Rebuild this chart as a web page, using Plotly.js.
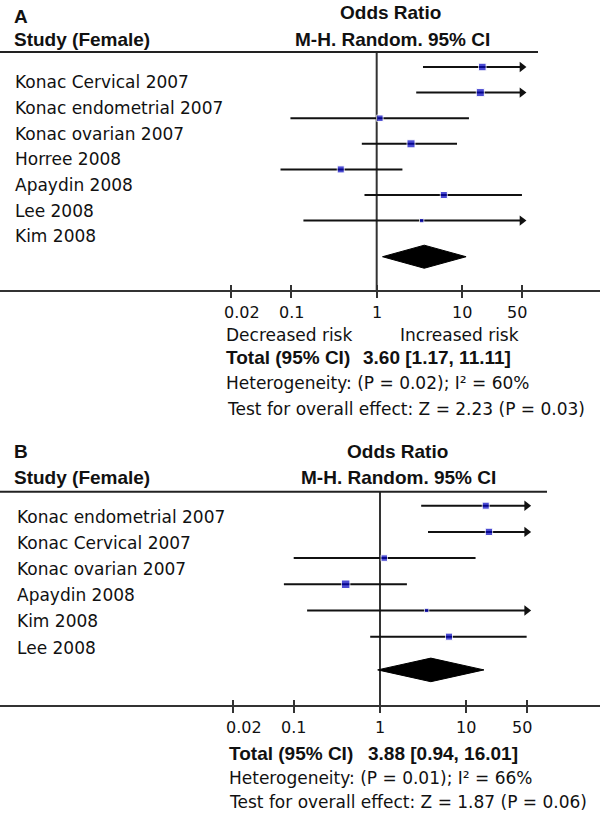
<!DOCTYPE html>
<html>
<head>
<meta charset="utf-8">
<script src="https://cdn.plot.ly/plotly-3.0.1.min.js"></script>
<style>html,body{margin:0;padding:0;background:#fff;}#chart{width:600px;height:831px;}</style>
</head>
<body>
<div id="chart"></div>
<script>
// ---------- Data ----------
const tickVals = [0.02, 0.1, 1, 10, 50];
const tickText = ["0.02", "0.1", "1", "10", "50"];

// Panel A
const studiesA = ["Konac Cervical 2007", "Konac endometrial 2007", "Konac ovarian 2007", "Horree 2008", "Apaydin 2008", "Lee 2008", "Kim 2008"];
const orA   = [17.2, 16.3, 1.09, 2.52, 0.38, 6.1, 3.36];
const lowA  = [3.48, 2.9, 0.098, 0.67, 0.075, 0.72, 0.139];
const highA = [85, 92, 12.0, 8.7, 2.0, 50, 81];
const weightA = [15, 17, 11, 17, 13, 13, 5];
const pooledA = {est: 3.60, low: 1.17, high: 11.11};
const totalTextA = "3.60 [1.17, 11.11]";
const hetTextA = "Heterogeneity: (P = 0.02); I² = 60%";
const effTextA = "Test for overall effect: Z = 2.23 (P = 0.03)";

// Panel B
const studiesB = ["Konac endometrial 2007", "Konac Cervical 2007", "Konac ovarian 2007", "Apaydin 2008", "Kim 2008", "Lee 2008"];
const orB   = [16.8, 18.3, 1.12, 0.40, 3.47, 6.3];
const lowB  = [3.0, 3.6, 0.10, 0.077, 0.143, 0.77];
const highB = [94, 93, 12.8, 2.05, 84, 50];
const weightB = [13, 14, 11, 19, 5, 13];
const pooledB = {est: 3.88, low: 0.94, high: 16.01};
const totalTextB = "3.88 [0.94, 16.01]";
const hetTextB = "Heterogeneity: (P = 0.01); I² = 66%";
const effTextB = "Test for overall effect: Z = 1.87 (P = 0.06)";

// ---------- Drawing ----------
const W = 600, H = 831;
const px = x => x / W;
const py = y => 1 - y / H;
const CLIP = 50;
const BLUE = '#0000c0';
const REG = 'DejaVu Sans, sans-serif';
const BOLD = 'Liberation Sans, Arial, sans-serif';
const tickShift = [11, 0, 0, 0, -5];

function panelTraces(or, low, high, weight, pooled, xa, ya, diamondY) {
  const lx = [], ly = [], ax = [], ay = [];
  or.forEach((v, i) => {
    const y = i + 1;
    lx.push(low[i], Math.min(high[i], CLIP), null);
    ly.push(y, y, null);
    if (high[i] > CLIP) { ax.push(CLIP); ay.push(y); }
  });
  const rows = or.map((v, i) => i + 1);
  return [
    {x: lx, y: ly, xaxis: xa, yaxis: ya, mode: 'lines', line: {color: '#111', width: 2}, hoverinfo: 'skip', showlegend: false},
    {x: ax, y: ay, xaxis: xa, yaxis: ya, mode: 'markers', marker: {symbol: 'triangle-right', size: 9, color: '#111'}, hoverinfo: 'skip', showlegend: false},
    {x: or, y: rows, xaxis: xa, yaxis: ya, mode: 'markers',
     marker: {symbol: 'square', color: BLUE, size: weight.map(w => 1.95 * Math.sqrt(w))}, showlegend: false},
    {x: [pooled.low, pooled.est, pooled.high, pooled.est, pooled.low],
     y: [diamondY, diamondY - 0.45, diamondY, diamondY + 0.45, diamondY],
     xaxis: xa, yaxis: ya, mode: 'lines', fill: 'toself', fillcolor: '#000', line: {color: '#000', width: 1}, showlegend: false}
  ];
}

const traces = [
  ...panelTraces(orA, lowA, highA, weightA, pooledA, 'x', 'y', 8.41),
  ...panelTraces(orB, lowB, highB, weightB, pooledB, 'x2', 'y2', 7.27),
  {x: [1], y: [1], xaxis: 'x3', yaxis: 'y', mode: 'markers', marker: {opacity: 0}, hoverinfo: 'skip', showlegend: false},
  {x: [1], y: [1], xaxis: 'x4', yaxis: 'y2', mode: 'markers', marker: {opacity: 0}, hoverinfo: 'skip', showlegend: false}
];

function xax(range, anchor, extra) {
  return Object.assign({
    type: 'log', range: range, domain: [0, 1], anchor: anchor,
    showline: true, linecolor: '#333', linewidth: 2,
    ticks: 'outside', ticklen: 6, tickwidth: 2, tickcolor: '#333',
    tickmode: 'array', tickvals: tickVals, ticktext: tickText, showticklabels: false,
    showgrid: false, zeroline: false, fixedrange: true
  }, extra || {});
}
function yax(domain, range) {
  return {domain: domain, range: range, showticklabels: false, showgrid: false, zeroline: false,
          showline: false, ticks: '', fixedrange: true};
}

const rangeA = [-4.406, 2.612], rangeB = [-4.403, 2.549];

const ann = [];
function txt(text, x, y, opts) {
  ann.push(Object.assign({text: text, x: px(x), y: py(y), xref: 'paper', yref: 'paper',
    showarrow: false, xanchor: 'left', yanchor: 'middle',
    font: {family: REG, size: 17, color: '#111'}}, opts || {}));
}
const boldFont = s => ({family: BOLD, size: s, color: '#111', weight: 'bold'});
function tickLabels(xa, yPix) {
  tickVals.forEach((v, i) => ann.push({text: tickText[i], x: Math.log10(v), xref: xa, y: py(yPix), yref: 'paper',
    xshift: tickShift[i], showarrow: false, xanchor: 'center', yanchor: 'middle',
    font: {family: REG, size: 16, color: '#111'}}));
}

// Panel A header
txt('<b>A</b>', 12, 16, {font: boldFont(19)});
txt('<b>Study (Female)</b>', 12, 40, {font: boldFont(19)});
txt('<b>Odds Ratio</b>', 391, 13, {xanchor: 'center', font: boldFont(19)});
txt('<b>M-H. Random. 95% CI</b>', 392, 39, {xanchor: 'center', font: boldFont(19)});
studiesA.forEach((s, i) => ann.push({text: s, x: px(13), y: i + 1, xref: 'paper', yref: 'y', yshift: -15.5,
  showarrow: false, xanchor: 'left', yanchor: 'middle', font: {family: REG, size: 17, color: '#111'}}));
tickLabels('x', 312);
txt('Decreased risk', 224, 335);
txt('Increased risk', 398, 335);
txt('<b>Total (95% CI)</b>', 224, 357, {font: boldFont(19)});
txt('<b>' + totalTextA + '</b>', 361, 357, {font: boldFont(19)});
txt(hetTextA, 224, 383);
txt(effTextA, 225, 409);

// Panel B header
txt('<b>B</b>', 12, 451, {font: boldFont(19)});
txt('<b>Study (Female)</b>', 12, 477, {font: boldFont(19)});
txt('<b>Odds Ratio</b>', 397, 451, {xanchor: 'center', font: boldFont(19)});
txt('<b>M-H. Random. 95% CI</b>', 398, 477, {xanchor: 'center', font: boldFont(19)});
studiesB.forEach((s, i) => ann.push({text: s, x: px(15), y: i + 1, xref: 'paper', yref: 'y2', yshift: -11,
  showarrow: false, xanchor: 'left', yanchor: 'middle', font: {family: REG, size: 17, color: '#111'}}));
tickLabels('x2', 727);
txt('<b>Total (95% CI)</b>', 227, 753, {font: boldFont(19)});
txt('<b>' + totalTextB + '</b>', 366, 753, {font: boldFont(19)});
txt(hetTextB, 227, 778);
txt(effTextB, 227, 802);

const shapes = [
  {type: 'line', xref: 'paper', yref: 'y domain', x0: 0, x1: px(538), y0: 1, y1: 1, line: {color: '#222', width: 2}},
  {type: 'line', xref: 'paper', yref: 'y2 domain', x0: 0, x1: px(547), y0: 1, y1: 1, line: {color: '#222', width: 2}},
  {type: 'line', xref: 'x', yref: 'y domain', x0: 1, x1: 1, y0: 0, y1: 1, layer: 'below', line: {color: '#333', width: 2}},
  {type: 'line', xref: 'x2', yref: 'y2 domain', x0: 1, x1: 1, y0: 0, y1: 1, layer: 'below', line: {color: '#333', width: 2}}
];

const layout = {
  width: W, height: H, margin: {l: 0, r: 0, t: 0, b: 0},
  paper_bgcolor: '#fff', plot_bgcolor: '#fff', showlegend: false,
  xaxis: xax(rangeA, 'y'),
  xaxis2: xax(rangeB, 'y2'),
  xaxis3: xax(rangeA, 'y', {overlaying: 'x', ticks: 'inside', ticklen: 5, showline: false}),
  xaxis4: xax(rangeB, 'y2', {overlaying: 'x2', ticks: 'inside', ticklen: 5, showline: false}),
  yaxis: yax([py(290), py(52)], [9.71, 0.414]),
  yaxis2: yax([py(705), py(491.7)], [8.61, 0.466]),
  annotations: ann,
  shapes: shapes
};

Plotly.newPlot('chart', traces, layout, {displayModeBar: false, staticPlot: true});
</script>
</body>
</html>
